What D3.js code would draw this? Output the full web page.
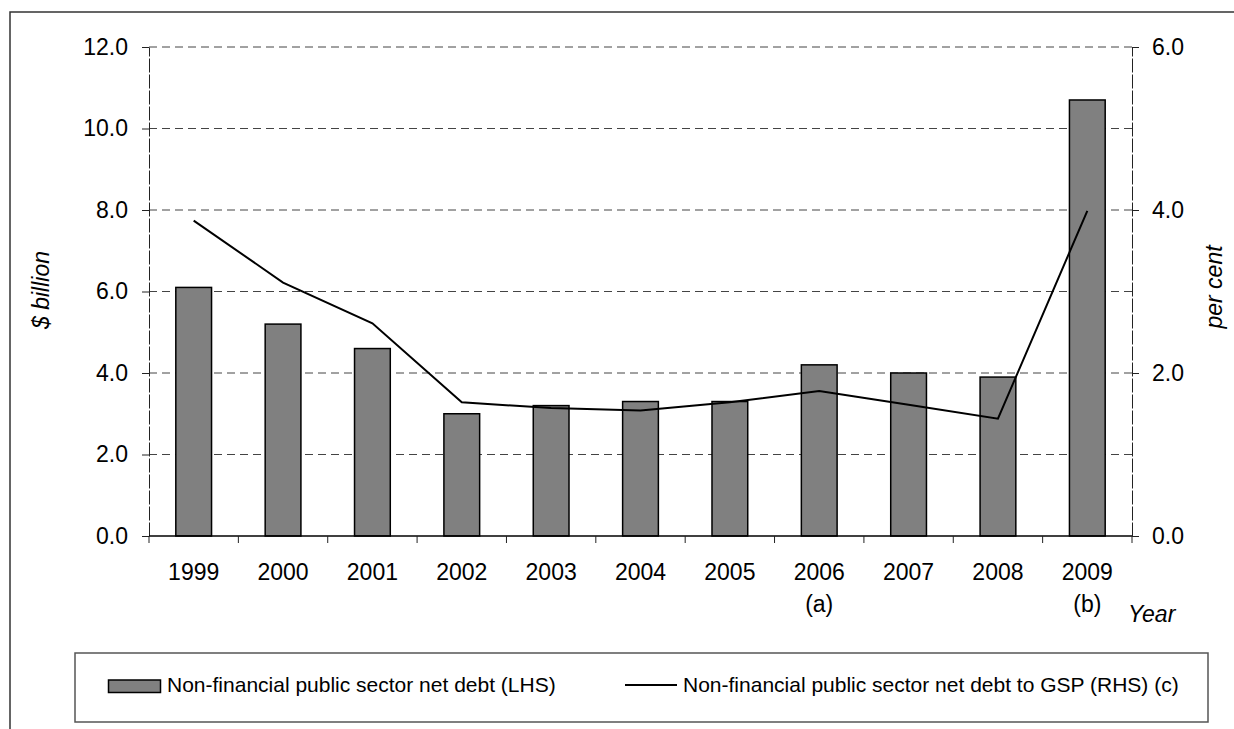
<!DOCTYPE html>
<html>
  <head>
    <meta charset="utf-8" />
    <script src="https://d3js.org/d3.v7.min.js"></script>
    <style>
      body {
        margin: 0;
        background: #fff;
      }
      text {
        font-family: "Liberation Sans", Arial, sans-serif;
        fill: #000;
      }
      .grid line {
        stroke: #444;
        stroke-dasharray: 8, 5;
      }
      .axis path,
      .axis line {
        stroke: #222;
      }
    </style>
  </head>
  <body>
    <svg id="chart" width="1234" height="729"></svg>
    <script>
      // values
      const years = ["1999", "2000", "2001", "2002", "2003", "2004", "2005", "2006", "2007", "2008", "2009"];
      const yearNotes = ["", "", "", "", "", "", "", "(a)", "", "", "(b)"];
      const netDebt = [6.1, 5.2, 4.6, 3.0, 3.2, 3.3, 3.3, 4.2, 4.0, 3.9, 10.7];
      const debtToGsp = [3.87, 3.11, 2.61, 1.64, 1.57, 1.54, 1.64, 1.78, 1.61, 1.44, 3.99];
      const leftTicks = [0, 2, 4, 6, 8, 10, 12];
      const rightTicks = [0, 2, 4, 6];

      const svg = d3.select("svg#chart");
      const plot = { left: 149, right: 1132, top: 47, bottom: 536 };

      // outer frame (runs off the right and bottom edges)
      svg
        .append("rect")
        .attr("x", 10)
        .attr("y", 12)
        .attr("width", 1400)
        .attr("height", 900)
        .attr("fill", "none")
        .attr("stroke", "#333")
        .attr("stroke-width", 1.5);

      const x = d3.scaleBand().domain(years).range([plot.left, plot.right]).padding(0);
      const yLeft = d3.scaleLinear().domain([0, 12]).range([plot.bottom, plot.top]);
      const yRight = d3.scaleLinear().domain([0, 6]).range([plot.bottom, plot.top]);
      const barW = x.bandwidth() * 0.4;

      // dashed gridlines
      svg
        .append("g")
        .attr("class", "grid")
        .selectAll("line")
        .data(leftTicks.filter((d) => d > 0))
        .join("line")
        .attr("x1", plot.left)
        .attr("x2", plot.right)
        .attr("y1", (d) => yLeft(d))
        .attr("y2", (d) => yLeft(d));

      // bars
      svg
        .append("g")
        .selectAll("rect")
        .data(netDebt)
        .join("rect")
        .attr("x", (d, i) => x(years[i]) + (x.bandwidth() - barW) / 2)
        .attr("y", (d) => yLeft(d))
        .attr("width", barW)
        .attr("height", (d) => yLeft(0) - yLeft(d))
        .attr("fill", "#808080")
        .attr("stroke", "#000")
        .attr("stroke-width", 1.5);

      // line on right axis
      const line = d3
        .line()
        .x((d, i) => x(years[i]) + x.bandwidth() / 2)
        .y((d) => yRight(d));
      svg
        .append("path")
        .datum(debtToGsp)
        .attr("d", line)
        .attr("fill", "none")
        .attr("stroke", "#000")
        .attr("stroke-width", 2);

      // left axis
      const leftAxis = svg
        .append("g")
        .attr("class", "axis")
        .attr("transform", `translate(${plot.left},0)`)
        .call(
          d3.axisLeft(yLeft).tickValues(leftTicks).tickSize(7).tickSizeOuter(0).tickPadding(14).tickFormat(d3.format(".1f"))
        );
      leftAxis.selectAll("text").style("font-size", "23px");

      // right axis
      const rightAxis = svg
        .append("g")
        .attr("class", "axis")
        .attr("transform", `translate(${plot.right},0)`)
        .call(
          d3.axisRight(yRight).tickValues(rightTicks).tickSize(7).tickSizeOuter(0).tickPadding(13).tickFormat(d3.format(".1f"))
        );
      rightAxis.selectAll("text").style("font-size", "23px");
      svg.selectAll(".axis .domain").attr("stroke-dasharray", "14,2");

      // x axis baseline and tick marks at band edges
      svg
        .append("line")
        .attr("x1", plot.left)
        .attr("x2", plot.right)
        .attr("y1", plot.bottom)
        .attr("y2", plot.bottom)
        .attr("stroke", "#000")
        .attr("stroke-width", 1.5);
      svg
        .append("g")
        .selectAll("line")
        .data(years.concat(["end"]))
        .join("line")
        .attr("x1", (d) => (d === "end" ? plot.right : x(d)))
        .attr("x2", (d) => (d === "end" ? plot.right : x(d)))
        .attr("y1", plot.bottom)
        .attr("y2", plot.bottom + 7)
        .attr("stroke", "#222");

      svg
        .append("g")
        .selectAll("text")
        .data(years)
        .join("text")
        .attr("x", (d) => x(d) + x.bandwidth() / 2)
        .attr("y", 580)
        .attr("text-anchor", "middle")
        .style("font-size", "23px")
        .text((d) => d);

      svg
        .append("g")
        .selectAll("text")
        .data(years.filter((d, i) => yearNotes[i] !== ""))
        .join("text")
        .attr("x", (d) => x(d) + x.bandwidth() / 2)
        .attr("y", 612)
        .attr("text-anchor", "middle")
        .style("font-size", "23px")
        .text((d) => yearNotes[years.indexOf(d)]);

      svg
        .append("text")
        .attr("x", 1128)
        .attr("y", 622)
        .style("font-size", "23px")
        .style("font-style", "italic")
        .text("Year");

      // axis titles
      svg
        .append("text")
        .attr("transform", "translate(49,290) rotate(-90)")
        .attr("text-anchor", "middle")
        .style("font-size", "23px")
        .style("font-style", "italic")
        .text("$ billion");
      svg
        .append("text")
        .attr("transform", "translate(1222,287) rotate(-90)")
        .attr("text-anchor", "middle")
        .style("font-size", "23px")
        .style("font-style", "italic")
        .text("per cent");

      // legend
      const legend = svg.append("g");
      legend
        .append("rect")
        .attr("x", 75)
        .attr("y", 653)
        .attr("width", 1133)
        .attr("height", 69)
        .attr("fill", "none")
        .attr("stroke", "#555")
        .attr("stroke-width", 1.5);
      legend
        .append("rect")
        .attr("x", 108.5)
        .attr("y", 680)
        .attr("width", 52)
        .attr("height", 12.5)
        .attr("fill", "#808080")
        .attr("stroke", "#000")
        .attr("stroke-width", 1.5);
      legend
        .append("text")
        .attr("x", 167)
        .attr("y", 692)
        .style("font-size", "21px")
        .text("Non-financial public sector net debt (LHS)");
      legend
        .append("line")
        .attr("x1", 625)
        .attr("x2", 677)
        .attr("y1", 685)
        .attr("y2", 685)
        .attr("stroke", "#000")
        .attr("stroke-width", 2);
      legend
        .append("text")
        .attr("x", 683)
        .attr("y", 692)
        .style("font-size", "21px")
        .text("Non-financial public sector net debt to GSP (RHS) (c)");
    </script>
  </body>
</html>
